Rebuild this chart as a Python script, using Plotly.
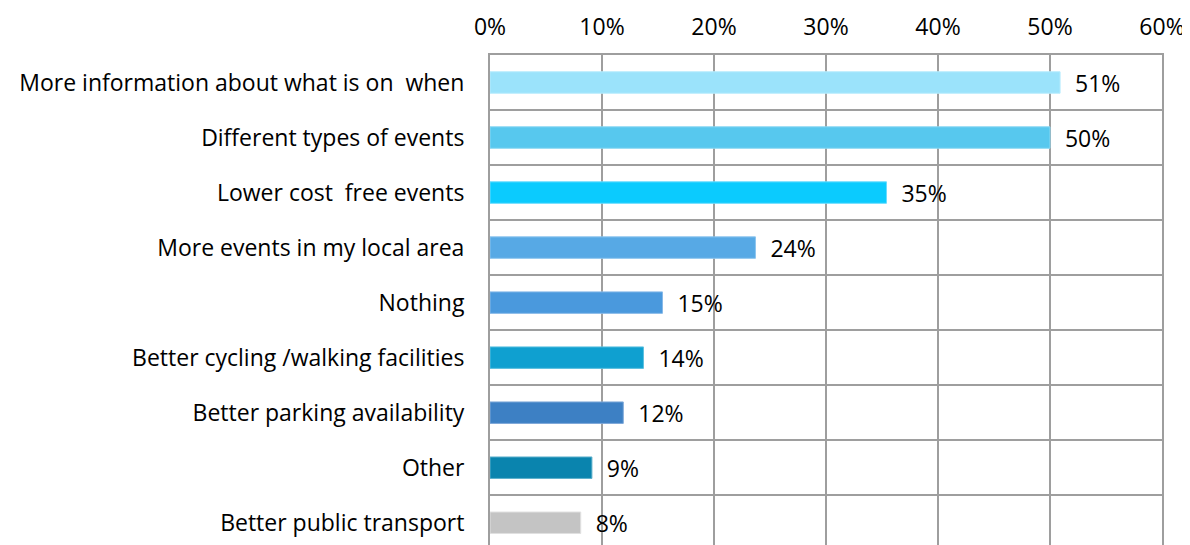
import plotly.graph_objects as go

categories = [
    "More information about what is on  when",
    "Different types of events",
    "Lower cost  free events",
    "More events in my local area",
    "Nothing",
    "Better cycling /walking facilities",
    "Better parking availability",
    "Other",
    "Better public transport",
]
values = [50.9, 50.0, 35.4, 23.7, 15.4, 13.7, 11.9, 9.1, 8.1]
labels = ["51%", "50%", "35%", "24%", "15%", "14%", "12%", "9%", "8%"]
colors = ["#9BE3FB", "#57C8EE", "#0BCBFE", "#57A9E5", "#4A99DD",
          "#0FA0D0", "#3D80C4", "#0A84AE", "#C4C4C4"]
line_colors = ["#B8ECFD", "#8AD8F3", "#6ADCFE", "#8CC4EE", "#86B9E8",
               "#5CC0E0", "#7EA8D8", "#5DB0CC", "#E0E0E0"]
tick_vals = [0, 10, 20, 30, 40, 50, 60]
tick_text = ["0%", "10%", "20%", "30%", "40%", "50%", "60%"]

FONT = "Open Sans"
FS = 23

fig = go.Figure(go.Bar(
    x=values,
    y=categories,
    orientation="h",
    width=0.39,
    marker=dict(color=colors, line=dict(color=line_colors, width=1)),
    text=labels,
    texttemplate="  %{text}",
    textposition="outside",
    constraintext="none",
    textfont=dict(family=FONT, size=FS, color="black"),
    cliponaxis=False,
))

fig.update_layout(
    width=1190, height=545,
    margin=dict(l=482, r=36, t=47, b=0, autoexpand=False),
    paper_bgcolor="white", plot_bgcolor="white",
    showlegend=False,
    font=dict(family=FONT, size=FS, color="black"),
    xaxis=dict(
        side="top", range=[0, 60], tickvals=tick_vals, ticktext=tick_text,
        showgrid=True, gridcolor="#9E9E9E", gridwidth=2,
        showline=True, linecolor="#9E9E9E", linewidth=2, mirror=True,
        zeroline=False, ticks="", ticklabelstandoff=9, automargin=False,
        tickfont=dict(family=FONT, size=FS, color="black"),
    ),
    yaxis=dict(
        type="category", range=[8.55, -0.5], tickson="boundaries",
        showgrid=True, gridcolor="#9E9E9E", gridwidth=2,
        showline=True, linecolor="#9E9E9E", linewidth=2, mirror=True,
        ticks="", ticklabelstandoff=19, automargin=False,
        tickfont=dict(family=FONT, size=FS, color="black"),
    ),
)

fig.write_html("out.html")
